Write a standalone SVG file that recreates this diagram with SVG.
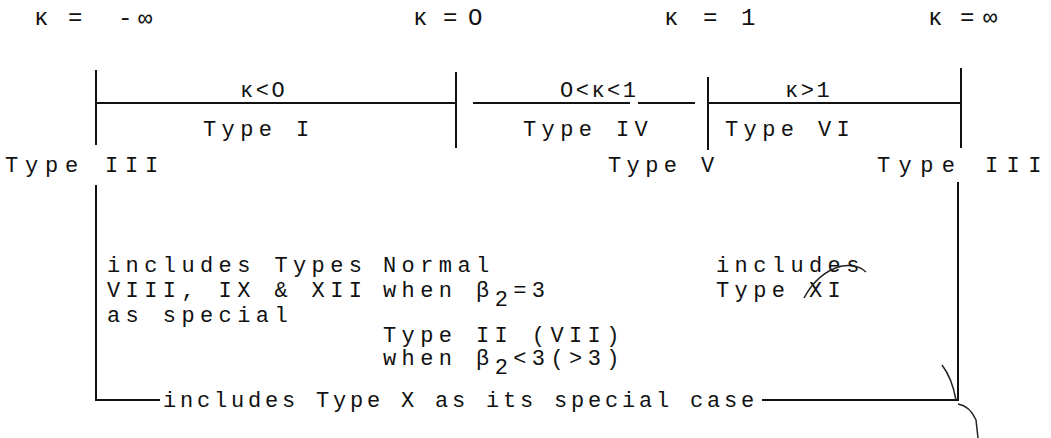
<svg xmlns="http://www.w3.org/2000/svg" width="1051" height="438" viewBox="0 0 1051 438">
<style>
.t{font-family:"Liberation Mono","DejaVu Sans Mono",monospace;font-size:22px;fill:#111;letter-spacing:5.4px;font-weight:500}
.w{letter-spacing:6.8px}
.wr{letter-spacing:8.4px}
.b{letter-spacing:3.8px}
.k{font-family:"Liberation Mono","DejaVu Sans Mono",monospace;font-size:24px;fill:#111}
.s{font-family:"Liberation Mono","DejaVu Sans Mono",monospace;font-size:22px;fill:#111;letter-spacing:2.5px}
.ln{stroke:#111;stroke-width:2;fill:none}
.hw{stroke:#222;stroke-width:1.5;fill:none}
</style>
<rect width="1051" height="438" fill="#fff"/>
<g id="kappa-values">
<text class="k" x="34" y="25">κ</text><text class="k" x="68" y="25">=</text><text class="k" x="118" y="25">-</text><text class="k" x="138" y="26" font-size="28">∞</text>
<text class="k" x="413" y="25">κ</text><text class="k" x="443" y="25">=</text><text class="k" x="468" y="25">O</text>
<text class="k" x="664" y="25">κ</text><text class="k" x="703" y="25">=</text><text class="k" x="741" y="25" font-size="28">1</text>
<text class="k" x="928" y="25">κ</text><text class="k" x="960" y="25">=</text><text class="k" x="983" y="25">∞</text>
</g>
<g id="connectors">
<line class="ln" x1="96" y1="70" x2="96" y2="145"/>
<line class="ln" x1="456" y1="72" x2="456" y2="148"/>
<line class="ln" x1="708" y1="77" x2="708" y2="150"/>
<line class="ln" x1="961" y1="68" x2="961" y2="148"/>
<line class="ln" x1="96" y1="103" x2="456" y2="103"/>
<line class="ln" x1="473" y1="103" x2="630" y2="103"/>
<line class="ln" x1="638" y1="103" x2="695" y2="103"/>
<line class="ln" x1="708" y1="103" x2="961" y2="103"/>
<polyline class="ln" points="96,185 96,400 160,400"/>
<polyline class="ln" points="762,400 958,400 958,182"/>
</g>
<g id="range-neg">
<text class="s" x="240" y="97">κ&lt;O</text>
<text class="t" x="203" y="136">Type I</text>
</g>
<g id="range-mid">
<text class="s" x="560" y="97">O&lt;κ&lt;1</text>
<text class="t" x="523" y="136">Type IV</text>
</g>
<g id="range-pos">
<text class="s" x="785" y="97">κ&gt;1</text>
<text class="t" x="725" y="136">Type VI</text>
</g>
<g id="type-III-left"><text class="t w" x="5" y="172">Type III</text></g>
<g id="type-V"><text class="t" x="608" y="172">Type V</text></g>
<g id="type-III-right"><text class="t wr" x="877" y="172">Type III</text></g>
<g id="note-left">
<text class="t" x="107" y="272">includes Types</text>
<text class="t" x="107" y="297">VIII, IX &amp; XII</text>
<text class="t" x="107" y="322">as special</text>
</g>
<g id="note-mid">
<text class="t" x="383" y="272">Normal</text>
<text class="t" x="383" y="297">when β<tspan dy="9">2</tspan><tspan dy="-9">=3</tspan></text>
<text class="t" x="383" y="342">Type II (VII)</text>
<text class="t" x="383" y="365">when β<tspan dy="9">2</tspan><tspan dy="-9">&lt;3(&gt;3)</tspan></text>
</g>
<g id="note-right">
<text class="t" x="716" y="272">includes</text>
<text class="t" x="716" y="297">Type XI</text>
</g>
<g id="note-bottom">
<text class="t b" x="163" y="407">includes Type X as its special case</text>
</g>
<g id="marks">
<path class="hw" d="M804,298 Q818,272 842,266 Q858,264 866,272"/>
<path class="hw" d="M942,365 Q952,378 956,400"/>
<path class="hw" d="M958,404 Q970,406 976,420 L978,438"/>
</g>
</svg>
